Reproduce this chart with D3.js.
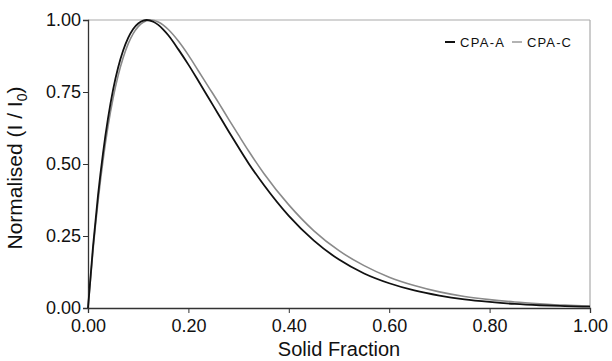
<!DOCTYPE html>
<html>
<head>
<meta charset="utf-8">
<script src="https://cdn.jsdelivr.net/npm/d3@7"></script>
<style>
  body { margin: 0; background: #fff; }
  text { font-family: "Liberation Sans", Arial, sans-serif; fill: #111; }
</style>
</head>
<body>
<div id="chart"></div>
<script>
// solid fraction sample points
const xA = [0, 0.01, 0.02, 0.03, 0.04, 0.05, 0.06, 0.07, 0.08, 0.09, 0.10, 0.11, 0.117, 0.13, 0.14, 0.15, 0.16, 0.18, 0.20, 0.22, 0.24, 0.26, 0.28, 0.30, 0.32, 0.35, 0.40, 0.45, 0.50, 0.55, 0.60, 0.65, 0.70, 0.75, 0.80, 0.85, 0.90, 0.95, 1.00]
const yA = [0, 0.213, 0.392, 0.539, 0.660, 0.758, 0.835, 0.894, 0.938, 0.969, 0.988, 0.998, 1.0, 0.994, 0.983, 0.967, 0.947, 0.898, 0.845, 0.788, 0.73, 0.672, 0.614, 0.557, 0.502, 0.428, 0.320, 0.234, 0.168, 0.120, 0.086, 0.061, 0.043, 0.030, 0.021, 0.014, 0.0095, 0.0066, 0.0045]

const xC = [0, 0.01, 0.02, 0.03, 0.04, 0.05, 0.06, 0.07, 0.08, 0.09, 0.10, 0.11, 0.125, 0.14, 0.15, 0.16, 0.18, 0.20, 0.22, 0.24, 0.26, 0.28, 0.30, 0.32, 0.35, 0.40, 0.45, 0.50, 0.55, 0.60, 0.65, 0.70, 0.75, 0.80, 0.85, 0.90, 0.95, 1.00]
const yC = [0, 0.201, 0.370, 0.513, 0.632, 0.729, 0.807, 0.869, 0.917, 0.953, 0.977, 0.992, 1.0, 0.993, 0.982, 0.967, 0.927, 0.878, 0.823, 0.768, 0.713, 0.656, 0.600, 0.545, 0.468, 0.358, 0.268, 0.199, 0.147, 0.107, 0.078, 0.056, 0.040, 0.029, 0.021, 0.015, 0.010, 0.007]

const xTicks = [0, 0.2, 0.4, 0.6, 0.8, 1.0]
const yTicks = [0, 0.25, 0.5, 0.75, 1.0]
const seriesNames = ["CPA-A", "CPA-C"]

let margin = {left: 88, right: 22, top: 20, bottom: 53}
let width = 612 - margin.left - margin.right,
    height = 361 - margin.top - margin.bottom

let svg = d3.select("#chart").append("svg")
    .attr("width", 612)
    .attr("height", 361)

let g = svg.append("g")
    .attr("transform", `translate(${margin.left}, ${margin.top})`)

let x = d3.scaleLinear().domain([0, 1]).range([0, width])
let y = d3.scaleLinear().domain([0, 1]).range([height, 0])

// frame: light top and right edges
g.append("line").attr("x1", 0).attr("x2", width).attr("y1", 0).attr("y2", 0)
  .attr("stroke", "#aaa").attr("stroke-width", 1.2)
g.append("line").attr("x1", width).attr("x2", width).attr("y1", 0).attr("y2", height)
  .attr("stroke", "#aaa").attr("stroke-width", 1.2)

// X Axis
let xAxis = g.append("g")
  .attr("transform", `translate(0, ${height})`)
  .call(d3.axisBottom(x).tickValues(xTicks).tickSize(5).tickPadding(6).tickFormat(d3.format(".2f")))
xAxis.select(".domain").attr("stroke", "#333").attr("stroke-width", 1.3)
xAxis.selectAll(".tick line").attr("stroke", "#333")
xAxis.selectAll("text").attr("font-size", "18px").attr("fill", "#111")

// Y Axis
let yAxis = g.append("g")
  .call(d3.axisLeft(y).tickValues(yTicks).tickSize(5).tickPadding(2).tickFormat(d3.format(".2f")))
yAxis.select(".domain").attr("stroke", "#333").attr("stroke-width", 1.3)
yAxis.selectAll(".tick line").attr("stroke", "#333")
yAxis.selectAll("text").attr("font-size", "18px").attr("fill", "#111")

// Labels
g.append("text")
  .attr("x", width / 2)
  .attr("y", height + 48)
  .attr("font-size", "20px")
  .attr("text-anchor", "middle")
  .text("Solid Fraction")

let yl = g.append("text")
  .attr("transform", `translate(-66, ${height / 2 + 4}) rotate(-90)`)
  .attr("font-size", "21px")
  .attr("text-anchor", "middle")
yl.append("tspan").text("Normalised (I / I")
yl.append("tspan").attr("font-size", "14px").attr("dy", 5).text("0")
yl.append("tspan").attr("dy", -5).text(")")

// curves
let line = d3.line()
  .x(d => x(d[0]))
  .y(d => y(d[1]))
  .curve(d3.curveMonotoneX)

g.append("path")
  .datum(xC.map((v, i) => [v, yC[i]]))
  .attr("fill", "none")
  .attr("stroke", "#8a8a8a")
  .attr("stroke-width", 1.6)
  .attr("d", line)

g.append("path")
  .datum(xA.map((v, i) => [v, yA[i]]))
  .attr("fill", "none")
  .attr("stroke", "#111")
  .attr("stroke-width", 1.8)
  .attr("d", line)

// legend
let legend = g.append("g").attr("transform", `translate(357, 22)`)
let legColors = ["#111", "#8a8a8a"]
let legX = [0, 67]
seriesNames.forEach((name, i) => {
  legend.append("line")
    .attr("x1", legX[i]).attr("x2", legX[i] + 10)
    .attr("y1", 0).attr("y2", 0)
    .attr("stroke", legColors[i]).attr("stroke-width", i == 0 ? 2 : 1.3)
  legend.append("text")
    .attr("x", legX[i] + 15)
    .attr("y", 5)
    .attr("font-size", "13px")
    .attr("textLength", 44)
    .text(name)
})
</script>
</body>
</html>
